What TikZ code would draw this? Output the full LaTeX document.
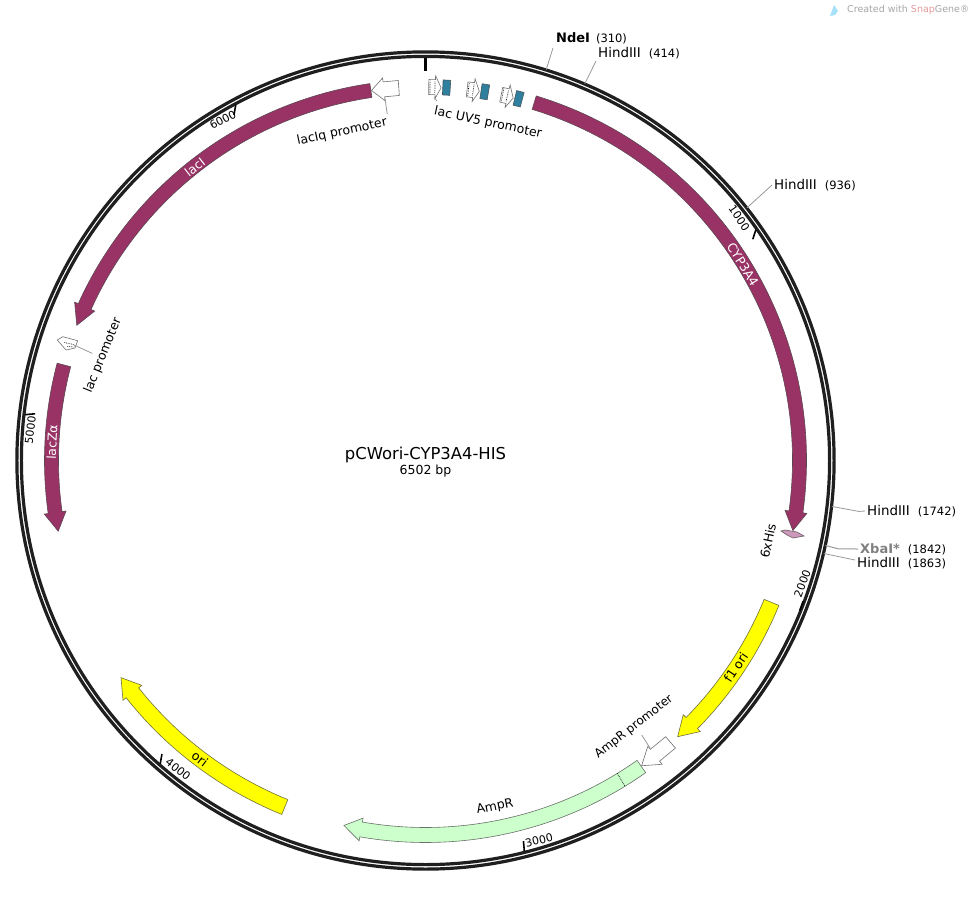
\documentclass[tikz,border=0pt]{standalone}
\usepackage{fontspec}
\setmainfont{DejaVu Sans}
\definecolor{cdspurple}{HTML}{993366}
\definecolor{oriyellow}{HTML}{FFFF00}
\definecolor{ampgreen}{HTML}{CCFFCC}
\definecolor{opteal}{HTML}{2F7F9E}
\definecolor{hispink}{HTML}{CC99BB}
\definecolor{leadgray}{HTML}{999999}
\definecolor{snapred}{HTML}{E39A98}
\tikzset{
    maplabel/.style={font=\fontsize{12.5}{15}\selectfont, inner sep=2pt},
    sitelabel/.style={font=\fontsize{13.4}{15}\selectfont, inner sep=2pt},
    ticklabel/.style={font=\fontsize{11}{13}\selectfont, inner sep=0pt},
    bandlabel/.style={font=\fontsize{12.5}{14}\selectfont, inner sep=0pt},
    feature/.style={draw=#1!35!leadgray!60!black, line width=0.6pt, fill=#1},
    leader/.style={draw=leadgray, line width=0.8pt},
    ringline/.style={draw=black!88, line width=3.2pt}
}
% angles run clockwise from the top of the map
\newcommand{\featarrow}[6]{%
    \draw[#1] ({90-#2}:#6) arc[start angle={90-#2},end angle={90-#3},radius=#6]
        -- ({90-#3}:#6+4) -- ({90-#4}:374) -- ({90-#3}:#5-4) -- ({90-#3}:#5)
        arc[start angle={90-#3},end angle={90-#2},radius=#5] -- cycle;}
\newcommand{\openarrow}[3]{%
    \draw[feature=white] ({90-#1}:381) -- ({90-#2}:381) -- ({90-#2}:385)
        -- ({90-#3}:374) -- ({90-#2}:362) -- ({90-#2}:366) -- ({90-#1}:366) -- cycle;}
\newcommand{\cutsite}[2]{\coordinate (#1) at ({90-#2/6502*360}:409);}
\begin{document}
\begin{tikzpicture}[x=1pt,y=1pt]
    \useasboundingbox (-425.5,460.5) rectangle (548.5,-437.5);

    % backbone
    \draw[ringline] (0,0) circle[radius=408.6];
    \draw[ringline] (0,0) circle[radius=404.1];
    \draw[black, line width=2.6pt] (90:403) -- (90:390);

    % ruler
    \foreach \pos/\rot/\anc/\dir/\off in {1000/-55.4/east/252/1.0, 2000/69.3/west/250/0.6, 3000/14/west/95/0.7,
        4000/-38.5/west/80/0.7, 5000/83.2/east/5/0.4, 6000/27.8/east/260/0.9}{
        \pgfmathsetmacro{\ang}{\pos/6502*360}
        \draw[black, line width=1.6pt] ({90-\ang+0.3}:403) -- ++(\dir:10);
        \node[ticklabel, rotate=\rot, anchor=\anc] (tick\pos) at ({90-\ang+\off}:396) {\pos};
    }

    % long features
    \featarrow{feature=cdspurple}{16.9}{97.9}{100.8}{367}{381}
    \featarrow{feature=cdspurple}{351.6}{294.3}{291.2}{367}{381}
    \featarrow{feature=cdspurple}{284.8}{262}{259.1}{367}{381}
    \featarrow{feature=oriyellow}{112.3}{134.6}{137.6}{366}{382}
    \featarrow{feature=oriyellow}{202.1}{231.6}{234.5}{366}{382}
    \featarrow{feature=ampgreen}{144.8}{189.9}{192.6}{367}{382}
    \draw[black, densely dotted, line width=0.7pt] ({90-148.5}:367) -- ({90-148.5}:382);

    % promoters and operators
    \openarrow{139}{142.1}{144.7}
    \openarrow{355.9}{353.6}{351.7}
    \foreach \ang in {0.5,6.4,11.7}{
        \draw[feature=white] ({90-\ang}:381) -- ({90-\ang-1}:381) -- ({90-\ang-1}:385)
            -- ({90-\ang-1.9}:373) -- ({90-\ang-1}:362) -- ({90-\ang-1}:366) -- ({90-\ang}:366) -- cycle;
        \draw[black, densely dotted, line width=0.7pt] ({90-\ang-0.2}:380) -- ({90-\ang-0.2}:367);
        \draw[black, densely dotted, line width=0.7pt] ({90-\ang-0.95}:379) -- ({90-\ang-0.95}:368);
        \draw[feature=opteal] ({90-\ang-2.15}:381) -- ({90-\ang-3.3}:381)
            -- ({90-\ang-3.3}:366) -- ({90-\ang-2.15}:366) -- cycle;
    }
    \draw[feature=white] (-362.8,123.8) -- (-347.8,119.8) -- (-350.5,112.5) -- (-359.5,110.5) -- (-368.2,120.5) -- cycle;
    \draw[black, densely dotted, line width=0.7pt] (-361,118) -- (-352,116);
    \draw[black, densely dotted, line width=0.7pt] (-358,114) -- (-351,113.5);
    \draw[feature=hispink] (355.5,-70.5) -- (359.5,-69.5) -- (371.5,-71.5) -- (378.5,-75.5)
        -- (367.5,-77.5) -- (361.5,-74.5) -- cycle;

    % labels on the features
    \node[bandlabel, text=white, rotate=-58.3] (cypthree) at ({90-58.3}:373) {CYP3A4};
    \node[bandlabel, text=white, rotate=38] (laci) at ({90-321.8}:373) {lacI};
    \node[bandlabel, text=white, rotate=87.2] (laczalpha) at ({90-272.8}:374) {lacZα};
    \node[bandlabel, rotate=56.3] (fone) at ({90-123.7}:373) {f1 ori};
    \node[bandlabel, rotate=-37.1] (ori) at ({90-217.1}:374) {ori};

    % labels beside the features
    \node[maplabel, rotate=12] (lacIqlabel) at (-83.5,328.5) {lacIq promoter};
    \node[maplabel, rotate=-12] (lacUVlabel) at (62.5,337.5) {lac UV5 promoter};
    \node[maplabel, rotate=68] (laclabel) at (-322.5,105) {lac promoter};
    \node[maplabel, rotate=38, font=\fontsize{12}{15}\selectfont] (ampprolabel) at (208.5,-266.5) {AmpR promoter};
    \node[maplabel, rotate=11] (amplabel) at (69.5,-346.5) {AmpR};
    \node[maplabel, rotate=78] (hislabel) at (342.5,-80.5) {6xHis};
    \coordinate (lacIqtip) at (-40.5,362);
    \coordinate (lacUVtip) at (8.5,363);
    \coordinate (lactip) at (-351.5,115.5);
    \coordinate (ampprotip) at (224.5,-287.5);
    \draw[leader] (lacIqtip) -- (lacIqlabel.north east);
    \draw[leader] (lacUVtip) -- ([xshift=3pt,yshift=2pt]lacUVlabel.north west);
    \draw[leader] (lactip) -- ([xshift=-3pt,yshift=-1pt]laclabel.north);
    \draw[leader] (ampprotip) -- ([xshift=3pt,yshift=-2pt]ampprolabel.south);

    % map title
    \node[font=\fontsize{16.4}{18}\selectfont, inner sep=0pt] (maptitle) at (0,5.5) {pCWori-CYP3A4-HIS};
    \node[font=\fontsize{12.5}{14}\selectfont, inner sep=0pt] (mapsize) at (0,-10.5) {6502 bp};

    % restriction sites
    \cutsite{site310}{310}
    \cutsite{site414}{414}
    \cutsite{site936}{936}
    \cutsite{site1742}{1742}
    \cutsite{site1842}{1842}
    \cutsite{site1863}{1863}
    \node[sitelabel, anchor=west] (ndeI) at (128.5,422.5) {\fontsize{13}{15}\selectfont\bfseries NdeI\hspace{6pt}\fontsize{11.5}{13}\selectfont\mdseries (310)};
    \node[sitelabel, anchor=west] (hind414) at (170.5,407.5) {HindIII\hspace{8pt}\fontsize{11.5}{13}\selectfont (414)};
    \node[sitelabel, anchor=west] (hind936) at (346.5,275.5) {HindIII\hspace{8pt}\fontsize{11.5}{13}\selectfont (936)};
    \node[sitelabel, anchor=west] (hind1742) at (439.5,-50.5) {HindIII\hspace{8pt}\fontsize{11.5}{13}\selectfont (1742)};
    \node[sitelabel, anchor=west] (xbaI) at (432.5,-88.5) {\fontsize{13}{15}\selectfont\textcolor{gray}{\bfseries XbaI*}\hspace{8pt}\fontsize{11.5}{13}\selectfont (1842)};
    \node[sitelabel, anchor=west] (hind1863) at (429.5,-102.5) {HindIII\hspace{8pt}\fontsize{11.5}{13}\selectfont (1863)};
    \draw[leader] (site310) -- ([xshift=-1pt,yshift=-2pt]ndeI.south west);
    \draw[leader] (site414) -- (hind414.south west);
    \draw[leader] (site936) -- (hind936.west);
    \draw[leader] (site1742) -- ++(27,-5) -- (hind1742.west);
    \draw[leader, line width=1pt] (site1842) -- ++(13,-3.5) -- (xbaI.west);
    \draw[leader] (site1863) -- ([yshift=3pt]hind1863.west);

    % watermark
    \fill[cyan!35] (404.5,444.5) -- (408.5,455.5) -- (412.5,449.5) -- (409.5,445.5) -- cycle;
    \node[font=\fontsize{9.5}{11}\selectfont, text=black!35, anchor=west, inner sep=0pt] (snapnote) at (421.5,450.5)
        {Created with \textcolor{snapred}{Snap}Gene®};
\end{tikzpicture}
\end{document}
